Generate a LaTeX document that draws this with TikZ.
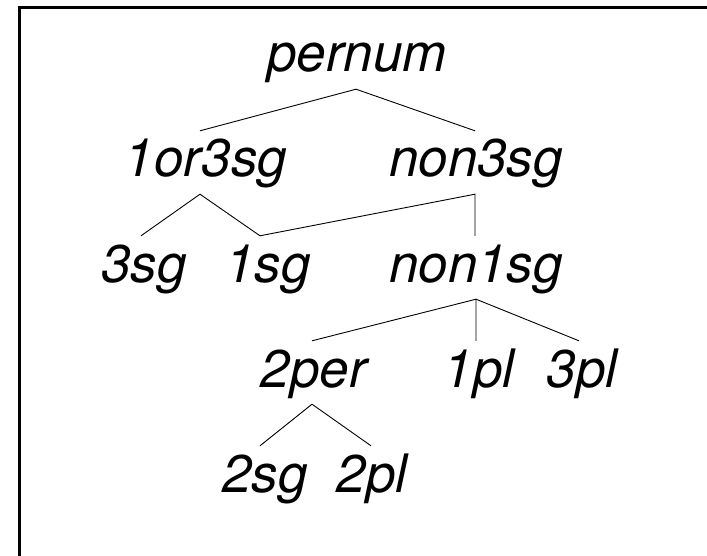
\documentclass[tikz,border=0pt]{standalone}
\usepackage{fontspec}
\setmainfont{TeX Gyre Heros}
\begin{document}
\begin{tikzpicture}[x=1pt,y=-1pt,
  lbl/.style={inner sep=0pt,anchor=base,text height=46pt,text depth=17pt,
    font=\fontsize{53}{60}\selectfont\itshape},
  edge/.style={line width=0.9pt}]
\useasboundingbox (0,0) rectangle (707,556);
\draw[line width=3pt] (19.5,620) -- (19.5,8) -- (780,8);
\node[lbl] (pernum) at (357,72) {pernum};
\node[lbl] (or3) at (206,177) {1or3sg};
\node[lbl] (non3) at (476,177) {non3sg};
\node[lbl] (s3) at (144,282) {3sg};
\node[lbl] (s1) at (268,282) {1sg};
\node[lbl] (non1) at (476,282) {non1sg};
\node[lbl] (per2) at (314,387) {2per};
\node[lbl] (pl1) at (479,387) {1pl};
\node[lbl] (pl3) at (582,387) {3pl};
\node[lbl] (sg2) at (265,492) {2sg};
\node[lbl] (pl2) at (372,492) {2pl};
\draw[edge] ([xshift=-6pt]or3.north) -- ([xshift=-1pt]pernum.south) -- ([xshift=-1pt]non3.north);
\draw[edge] ([xshift=-3pt]s3.north) -- ([xshift=-6pt]or3.south) -- ([xshift=-8pt]s1.north) -- ([xshift=-1pt]non3.south) -- ([xshift=-1pt]non1.north);
\draw[edge] ([xshift=-2pt]per2.north) -- (non1.south) -- ([xshift=-3pt]pl1.north);
\draw[edge] (non1.south) -- ([xshift=-3pt]pl3.north);
\draw[edge] ([xshift=-5pt]sg2.north) -- ([xshift=-2pt]per2.south) -- ([xshift=-1pt]pl2.north);
\end{tikzpicture}
\end{document}
